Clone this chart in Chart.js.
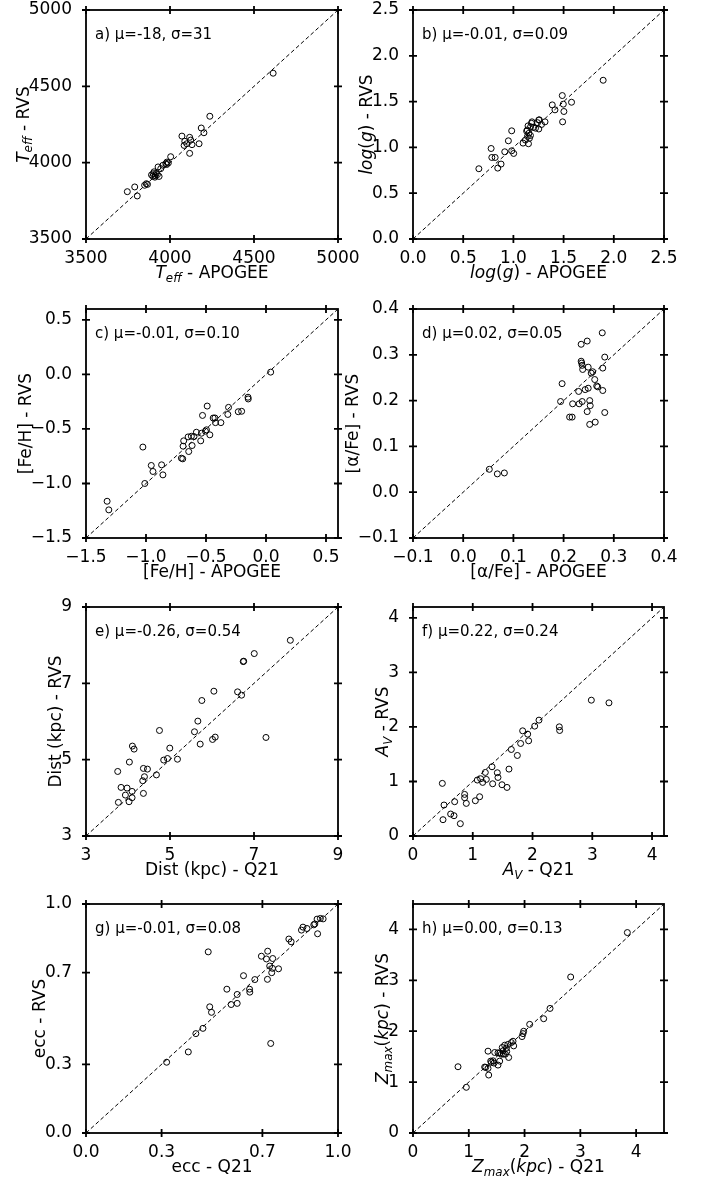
<!DOCTYPE html>
<html>
<head>
<meta charset="utf-8">
<script src="https://cdn.jsdelivr.net/npm/chart.js@4.4.1/dist/chart.umd.min.js"></script>
<style>
  html, body { margin: 0; padding: 0; background: #fff; overflow: hidden; }
  #fig { position: relative; width: 702px; height: 1183px; background: #fff; }
  #fig canvas { position: absolute; }
</style>
</head>
<body>
<div id="fig"></div>
<script>
// ---------------- data ----------------
const teffApogee = [4614,4237,4186,4202,4071,4117,4123,4088,4100,4131,4173,4117,4004,3982,3975,3990,3958,3929,3945,3905,3890,3900,3912,3925,3935,3898,3918,3859,3849,3866,3790,3746,3805,3980,3910,4084];
const teffRvs    = [4586,4304,4227,4196,4174,4166,4148,4140,4124,4118,4124,4061,4039,4004,3994,3998,3983,3972,3961,3940,3920,3928,3915,3922,3910,3911,3930,3862,3852,3858,3841,3810,3782,3988,3905,4113];

const loggApogee = [1.894,1.487,1.579,1.387,1.414,1.497,1.503,1.490,1.315,1.258,1.253,1.240,1.185,1.181,1.146,1.171,1.138,1.132,1.253,1.154,1.170,1.140,1.160,1.120,1.150,1.096,1.200,0.983,0.950,0.983,1.003,0.914,0.778,0.785,0.818,0.877,0.844,0.656,1.280,1.220];
const loggRvs    = [1.733,1.566,1.493,1.464,1.410,1.472,1.392,1.279,1.279,1.301,1.299,1.270,1.279,1.263,1.235,1.226,1.190,1.177,1.201,1.154,1.130,1.120,1.100,1.080,1.040,1.047,1.220,1.181,1.072,0.963,0.934,0.952,0.988,0.890,0.890,0.818,0.774,0.767,1.250,1.210];

const fehApogee = [0.039,-0.150,-0.148,-0.203,-0.231,-0.312,-0.318,-0.376,-0.426,-0.440,-0.421,-0.490,-0.529,-0.496,-0.468,-0.538,-0.544,-0.580,-0.622,-0.649,-0.616,-0.644,-0.686,-0.691,-0.705,-0.694,-0.870,-0.859,-0.956,-0.942,-1.010,-1.026,-1.324,-1.310,-0.600,-0.505];
const fehRvs    = [0.021,-0.209,-0.225,-0.338,-0.342,-0.302,-0.367,-0.442,-0.399,-0.400,-0.442,-0.290,-0.376,-0.508,-0.554,-0.539,-0.609,-0.530,-0.567,-0.573,-0.652,-0.707,-0.609,-0.658,-0.768,-0.774,-0.829,-0.921,-0.835,-0.890,-1.000,-0.666,-1.163,-1.242,-0.570,-0.520];

const alphaApogee = [0.277,0.247,0.235,0.282,0.235,0.236,0.237,0.249,0.238,0.278,0.255,0.258,0.262,0.266,0.268,0.197,0.249,0.243,0.230,0.278,0.194,0.218,0.237,0.231,0.252,0.253,0.247,0.282,0.212,0.217,0.252,0.263,0.052,0.068,0.082];
const alphaRvs    = [0.348,0.330,0.323,0.295,0.286,0.282,0.277,0.273,0.268,0.271,0.260,0.263,0.246,0.232,0.230,0.237,0.227,0.224,0.220,0.222,0.198,0.193,0.198,0.193,0.200,0.189,0.176,0.174,0.164,0.164,0.148,0.153,0.050,0.040,0.042];

const distQ21 = [7.865,7.006,6.744,6.755,6.609,6.704,6.045,5.758,5.663,5.583,5.719,6.013,6.076,7.285,4.749,4.995,4.940,4.850,5.178,4.105,4.145,4.033,4.367,4.463,4.391,4.351,4.677,3.755,3.835,3.978,4.097,3.938,4.097,4.025,3.771,4.367];
const distRvs = [8.128,7.780,7.570,7.580,6.777,6.690,6.794,6.550,6.010,5.731,5.408,5.530,5.591,5.582,5.765,5.303,5.030,4.990,5.012,5.356,5.277,4.937,4.771,4.753,4.553,4.448,4.601,4.691,4.273,4.256,4.168,4.072,4.003,3.898,3.881,4.116];

const avQ21 = [2.984,3.279,2.448,2.454,2.108,2.036,1.835,1.919,1.935,1.801,1.645,1.746,1.606,1.322,1.411,1.422,1.333,1.489,1.573,1.210,1.227,1.166,1.132,1.076,1.115,1.043,0.864,0.864,0.892,0.697,0.519,0.491,0.630,0.686,0.502,0.792];
const avRvs = [2.491,2.442,2.002,1.935,2.125,2.015,1.929,1.868,1.746,1.697,1.587,1.477,1.227,1.270,1.160,1.074,0.958,0.940,0.891,1.166,1.038,0.983,1.050,1.026,0.720,0.647,0.763,0.702,0.598,0.629,0.568,0.965,0.403,0.372,0.299,0.226];

const eccQ21 = [0.485,0.733,0.320,0.406,0.436,0.464,0.491,0.498,0.559,0.576,0.600,0.600,0.625,0.649,0.650,0.670,0.696,0.721,0.716,0.741,0.729,0.740,0.764,0.737,0.720,0.805,0.814,0.855,0.861,0.877,0.904,0.917,0.930,0.941,0.919,0.908];
const eccRvs = [0.791,0.391,0.309,0.354,0.434,0.457,0.551,0.527,0.628,0.561,0.566,0.605,0.687,0.628,0.615,0.670,0.772,0.794,0.760,0.762,0.729,0.719,0.717,0.700,0.671,0.847,0.835,0.886,0.899,0.893,0.909,0.934,0.937,0.935,0.870,0.913];

const zmaxQ21 = [3.843,2.827,2.457,2.343,2.092,1.984,1.972,1.955,1.793,1.763,1.805,1.644,1.674,1.614,1.656,1.584,1.554,1.524,1.715,1.465,1.345,1.554,1.524,1.435,1.405,1.393,1.453,1.303,1.345,1.285,1.357,0.807,0.956,1.600,1.680,1.620,1.700];
const zmaxRvs = [3.939,3.066,2.448,2.246,2.135,1.999,1.953,1.895,1.803,1.777,1.712,1.725,1.667,1.615,1.549,1.549,1.569,1.576,1.484,1.582,1.608,1.413,1.335,1.419,1.387,1.413,1.374,1.289,1.270,1.296,1.139,1.302,0.898,1.680,1.600,1.550,1.740];

// axis limits
const teffRange = [3500, 5000];
const loggRange = [0, 2.5];
const fehRange = [-1.5, 0.6];
const alphaRange = [-0.1, 0.4];
const distRange = [3, 9];
const avRange = [0, 4.2];
const eccRange = [0, 1];
const zmaxRange = [0, 4.5];

// tick values
const teffTicks = [3500, 4000, 4500, 5000];
const loggTicks = [0, 0.5, 1.0, 1.5, 2.0, 2.5];
const fehTicks = [-1.5, -1.0, -0.5, 0.0, 0.5];
const alphaTicks = [-0.1, 0.0, 0.1, 0.2, 0.3, 0.4];
const distTicks = [3, 5, 7, 9];
const avTicks = [0, 1, 2, 3, 4];
const eccTicks = [0.0, 0.3, 0.7, 1.0];
const zmaxTicks = [0, 1, 2, 3, 4];

// panel annotations
const statNotes = ['a) μ=-18, σ=31', 'b) μ=-0.01, σ=0.09', 'c) μ=-0.01, σ=0.10', 'd) μ=0.02, σ=0.05',
                   'e) μ=-0.26, σ=0.54', 'f) μ=0.22, σ=0.24', 'g) μ=-0.01, σ=0.08', 'h) μ=0.00, σ=0.13'];

// ---------------- drawing helpers ----------------
const FAM = '"DejaVu Sans"';
Chart.defaults.font.family = FAM;
Chart.defaults.color = '#000';

function fmt(dec) {
  return v => {
    const s = Math.abs(v).toFixed(dec);
    return (v < -1e-9 ? '\u2212' : '') + s;
  };
}

function drawRich(ctx, segs, cx, cy, size, rotate) {
  const fontFor = s => (s.it ? 'italic ' : '') + (s.sub ? size * 0.7 : size) + 'px ' + FAM;
  let total = 0;
  segs.forEach(s => { ctx.font = fontFor(s); total += ctx.measureText(s.t).width; });
  ctx.save();
  ctx.translate(cx, cy);
  if (rotate) ctx.rotate(-Math.PI / 2);
  ctx.textBaseline = 'alphabetic';
  ctx.textAlign = 'left';
  ctx.fillStyle = '#000';
  let x = -total / 2;
  const base = size * 0.36;
  segs.forEach(s => {
    ctx.font = fontFor(s);
    ctx.fillText(s.t, x, base + (s.sub ? size * 0.2 : 0));
    x += ctx.measureText(s.t).width;
  });
  ctx.restore();
}

const panelDeco = {
  id: 'panelDeco',
  afterDatasetsDraw(chart, args, o) {
    const {ctx, chartArea: ca, scales: {x, y}} = chart;
    ctx.save();
    ctx.strokeStyle = '#000';
    ctx.lineWidth = 1.8;
    ctx.strokeRect(ca.left, ca.top, ca.right - ca.left, ca.bottom - ca.top);
    ctx.beginPath();
    const L = 4;
    x.ticks.forEach(t => {
      const px = x.getPixelForValue(t.value);
      ctx.moveTo(px, ca.top - L); ctx.lineTo(px, ca.top + L);
      ctx.moveTo(px, ca.bottom - L); ctx.lineTo(px, ca.bottom + L);
    });
    y.ticks.forEach(t => {
      const py = y.getPixelForValue(t.value);
      ctx.moveTo(ca.left - L, py); ctx.lineTo(ca.left + L, py);
      ctx.moveTo(ca.right - L, py); ctx.lineTo(ca.right + L, py);
    });
    ctx.stroke();

    ctx.fillStyle = '#000';
    ctx.font = '15px ' + FAM;
    ctx.textAlign = 'left';
    ctx.textBaseline = 'alphabetic';
    ctx.fillText(o.note, ca.left + 9, ca.top + 23 + 5.5);

    drawRich(ctx, o.xLabel, (ca.left + ca.right) / 2, ca.bottom + 33, 17, false);

    ctx.font = '17px ' + FAM;
    let maxW = 0;
    y.ticks.forEach(t => { maxW = Math.max(maxW, ctx.measureText(t.label).width); });
    drawRich(ctx, o.yLabel, ca.left - 5 - maxW - 15, (ca.top + ca.bottom) / 2, 17, true);
    ctx.restore();
  }
};

function zip(xs, ys) { return xs.map((v, i) => ({x: v, y: ys[i]})); }

// ---------------- panels ----------------
const T = (t) => ({t});
const I = (t) => ({t, it: true});
const S = (t) => ({t, it: true, sub: true});

const panels = [
  {xs: teffApogee, ys: teffRvs, range: teffRange, ticks: teffTicks, dec: 0, note: statNotes[0],
   xl: [I('T'), S('eff'), T(' - APOGEE')], yl: [I('T'), S('eff'), T(' - RVS')]},
  {xs: loggApogee, ys: loggRvs, range: loggRange, ticks: loggTicks, dec: 1, note: statNotes[1],
   xl: [I('log'), T('('), I('g'), T(')'), T(' - APOGEE')], yl: [I('log'), T('('), I('g'), T(')'), T(' - RVS')]},
  {xs: fehApogee, ys: fehRvs, range: fehRange, ticks: fehTicks, dec: 1, note: statNotes[2],
   xl: [T('[Fe/H] - APOGEE')], yl: [T('[Fe/H] - RVS')]},
  {xs: alphaApogee, ys: alphaRvs, range: alphaRange, ticks: alphaTicks, dec: 1, note: statNotes[3],
   xl: [T('[α/Fe] - APOGEE')], yl: [T('[α/Fe] - RVS')]},
  {xs: distQ21, ys: distRvs, range: distRange, ticks: distTicks, dec: 0, note: statNotes[4],
   xl: [T('Dist (kpc) - Q21')], yl: [T('Dist (kpc) - RVS')]},
  {xs: avQ21, ys: avRvs, range: avRange, ticks: avTicks, dec: 0, note: statNotes[5],
   xl: [I('A'), S('V'), T(' - Q21')], yl: [I('A'), S('V'), T(' - RVS')]},
  {xs: eccQ21, ys: eccRvs, range: eccRange, ticks: eccTicks, dec: 1, note: statNotes[6],
   xl: [T('ecc - Q21')], yl: [T('ecc - RVS')]},
  {xs: zmaxQ21, ys: zmaxRvs, range: zmaxRange, ticks: zmaxTicks, dec: 0, note: statNotes[7],
   xl: [I('Z'), S('max'), T('('), I('kpc'), T(')'), T(' - Q21')], yl: [I('Z'), S('max'), T('('), I('kpc'), T(')'), T(' - RVS')]}
];

// geometry (pixels)
const colCanvas = [{left: 0, width: 372, axisW: 86, padR: 34}, {left: 345, width: 357, axisW: 68, padR: 38}];
const rowCanvasTop = [0, 299, 597, 894];
const CANVAS_H = 290, PAD_T = 10, XAXIS_H = 51;

const fig = document.getElementById('fig');
panels.forEach((p, i) => {
  const col = colCanvas[i % 2];
  const top = rowCanvasTop[Math.floor(i / 2)];
  const cv = document.createElement('canvas');
  cv.width = col.width; cv.height = CANVAS_H;
  cv.style.left = col.left + 'px'; cv.style.top = top + 'px';
  cv.style.width = col.width + 'px'; cv.style.height = CANVAS_H + 'px';
  fig.appendChild(cv);

  const tickFont = {family: FAM, size: 17};
  const setTicks = s => { s.ticks = p.ticks.map(v => ({value: v})); };

  new Chart(cv, {
    type: 'scatter',
    data: {
      datasets: [
        {
          data: [{x: p.range[0], y: p.range[0]}, {x: p.range[1], y: p.range[1]}],
          showLine: true, borderColor: '#000', borderWidth: 1, borderDash: [4, 2.6],
          pointRadius: 0, fill: false, order: 2
        },
        {
          data: zip(p.xs, p.ys),
          pointStyle: 'circle', pointRadius: 3, pointBorderWidth: 1,
          borderColor: '#000', backgroundColor: 'rgba(0,0,0,0)', pointBackgroundColor: 'rgba(0,0,0,0)',
          showLine: false, order: 1
        }
      ]
    },
    options: {
      responsive: false, animation: false, devicePixelRatio: 1,
      layout: {padding: {top: PAD_T, right: col.padR, left: 0, bottom: 0}},
      plugins: {
        legend: {display: false}, tooltip: {enabled: false},
        panelDeco: {note: p.note, xLabel: p.xl, yLabel: p.yl}
      },
      scales: {
        x: {
          type: 'linear', position: 'bottom', min: p.range[0], max: p.range[1],
          afterBuildTicks: setTicks,
          afterFit: s => { s.height = XAXIS_H; s.paddingLeft = 0; s.paddingRight = 0; },
          grid: {display: false}, border: {display: false},
          ticks: {font: tickFont, color: '#000', padding: 1, maxRotation: 0, autoSkip: false, callback: fmt(p.dec)}
        },
        y: {
          type: 'linear', position: 'left', min: p.range[0], max: p.range[1],
          afterBuildTicks: setTicks,
          afterFit: s => { s.width = col.axisW; s.paddingTop = 0; s.paddingBottom = 0; },
          grid: {display: false}, border: {display: false},
          ticks: {font: tickFont, color: '#000', padding: 6, autoSkip: false, callback: fmt(p.dec)}
        }
      }
    },
    plugins: [panelDeco]
  });
});
</script>
</body>
</html>
